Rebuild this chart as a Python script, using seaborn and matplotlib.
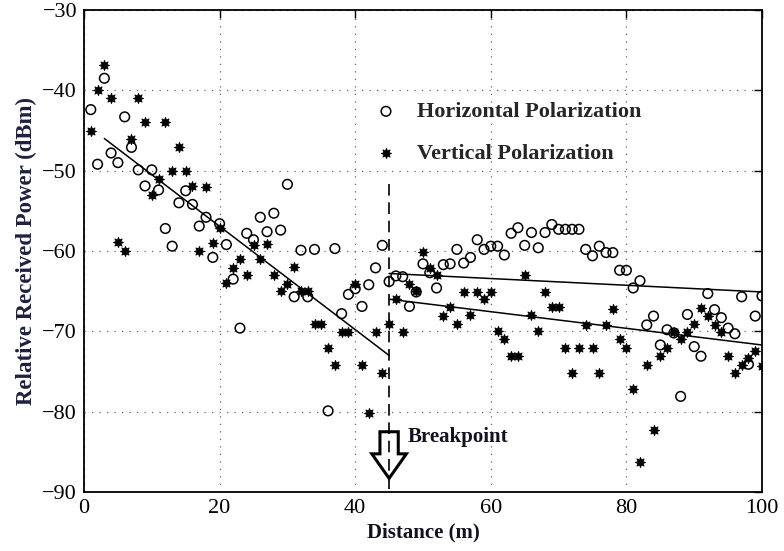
import matplotlib
matplotlib.use("Agg")
import matplotlib.pyplot as plt
import seaborn as sns
import numpy as np
from matplotlib.patches import Polygon

# ---- data ----
h_dist = [1, 2, 3, 4, 5, 6, 7, 8, 9, 10, 11, 12, 13, 14, 15, 16, 17, 18, 19, 20,
          21, 22, 23, 24, 25, 26, 27, 28, 29, 30, 31, 32, 33, 34, 36, 37, 38, 39, 40,
          41, 42, 43, 44, 45, 46, 47, 48, 49, 50, 51, 52, 53, 54, 55, 56, 57, 58, 59, 60,
          61, 62, 63, 64, 65, 66, 67, 68, 69, 70, 71, 72, 73, 74, 75, 76, 77, 78, 79, 80,
          81, 82, 83, 84, 85, 86, 87, 88, 89, 90, 91, 92, 93, 94, 95, 96, 97, 98, 99, 100]
h_power = [-42.4, -49.2, -38.5, -47.8, -49.0, -43.3, -47.1, -49.9, -51.9, -49.9,
           -52.4, -57.2, -59.4, -54.0, -52.5, -54.2, -56.9, -55.8, -60.8, -56.6,
           -59.2, -63.5, -69.6, -57.8, -58.6, -55.8, -57.6, -55.3, -57.4, -51.7,
           -65.7, -59.9, -65.7, -59.8, -79.9, -59.7, -67.8, -65.4, -64.7,
           -66.9, -64.2, -62.1, -59.3, -63.8, -63.1, -63.2, -66.9, -65.1, -61.6,
           -62.7, -64.6, -61.7, -61.6, -59.8, -61.5, -60.8, -58.6, -59.8, -59.4,
           -59.4, -60.5, -57.8, -57.1, -59.3, -57.7, -59.6, -57.7, -56.7, -57.3,
           -57.3, -57.3, -57.3, -59.8, -60.6, -59.4, -60.2, -60.2, -62.4, -62.4,
           -64.6, -63.7, -69.2, -68.1, -71.7, -69.8, -70.2, -78.1, -67.9, -71.9,
           -73.1, -65.3, -67.3, -68.3, -69.6, -70.3, -65.7, -74.1, -68.1, -65.6]

v_dist = [1, 2, 3, 4, 5, 6, 7, 8, 9, 10, 11, 12, 13, 14, 15, 16, 17, 18, 19, 20,
          21, 22, 23, 24, 25, 26, 27, 28, 29, 30, 31, 32, 33, 34, 35, 36, 37, 38, 39, 40,
          41, 42, 43, 44, 45, 46, 47, 48, 49, 50, 51, 52, 53, 54, 55, 56, 57, 58, 59, 60,
          61, 62, 63, 64, 65, 66, 67, 68, 69, 70, 71, 72, 73, 74, 75, 76, 77, 78, 79, 80,
          81, 82, 83, 84, 85, 86, 87, 88, 89, 90, 91, 92, 93, 94, 95, 96, 97, 98, 99, 100]
v_power = [-45.0, -40.0, -36.9, -41.0, -58.9, -60.0, -46.0, -41.0, -44.0, -53.0,
           -51.0, -44.0, -50.0, -47.0, -50.0, -51.9, -60.0, -52.0, -59.0, -57.1,
           -64.0, -62.1, -61.0, -63.0, -59.2, -61.0, -59.1, -63.0, -65.0, -64.1,
           -62.0, -65.0, -65.0, -69.1, -69.1, -72.1, -74.2, -70.1, -70.1, -64.1,
           -74.2, -80.2, -70.1, -75.2, -69.1, -66.0, -70.1, -64.1, -65.0, -60.1,
           -62.1, -63.0, -68.1, -67.0, -69.1, -65.1, -68.0, -65.1, -66.0, -65.1,
           -70.0, -71.0, -73.1, -73.1, -63.0, -68.0, -70.0, -65.1, -67.0, -67.0,
           -72.1, -75.2, -72.1, -69.2, -72.1, -75.2, -69.2, -67.2, -71.0, -72.1,
           -77.2, -86.3, -74.2, -82.3, -73.1, -72.1, -70.1, -71.0, -70.1, -69.1,
           -67.1, -68.1, -69.2, -70.1, -73.1, -75.2, -74.2, -73.3, -72.5, -74.3]

# regression lines (end points)
fit_near_x = [3, 45]
fit_near_y = [-46.0, -73.0]
fit_h_x = [45, 100]
fit_h_y = [-62.8, -65.1]
fit_v_x = [45, 100]
fit_v_y = [-66.0, -71.7]

# breakpoint annotation
break_x = [45, 45]
break_y = [-51.6, -90]
break_label = "Breakpoint"

x_ticks = [0, 20, 40, 60, 80, 100]
y_ticks = [-90, -80, -70, -60, -50, -40, -30]
x_label = "Distance (m)"
y_label = "Relative Received Power (dBm)"
h_label = "Horizontal Polarization"
v_label = "Vertical Polarization"

# ---- style ----
sns.set_theme(style="white")
plt.rcParams["font.family"] = ["Liberation Serif", "DejaVu Serif"]
plt.rcParams["axes.unicode_minus"] = True

fig = plt.figure(figsize=(7.84, 5.51), dpi=100)
ax = fig.add_axes([84 / 784, 59 / 551, 678 / 784, 482 / 551])

sns.scatterplot(x=h_dist, y=h_power, ax=ax, marker="o", s=48,
                facecolors="none", edgecolor="black", linewidth=1.1,
                label=h_label, zorder=3)
sns.scatterplot(x=v_dist, y=v_power, ax=ax, marker=(8, 1, 0), s=52,
                color="black", edgecolor="black", linewidth=0.7,
                label=v_label, zorder=3)

sns.lineplot(x=fit_near_x, y=fit_near_y, ax=ax, color="black", lw=1.1)
sns.lineplot(x=fit_h_x, y=fit_h_y, ax=ax, color="black", lw=1.1)
sns.lineplot(x=fit_v_x, y=fit_v_y, ax=ax, color="black", lw=1.1)
ax.plot(break_x, break_y, color="black", lw=1.2, ls=(0, (7, 4)), zorder=2)

# hollow arrow below breakpoint
bx = break_x[0]
arrow = Polygon([(bx - 1.35, -82.5), (bx + 1.35, -82.5), (bx + 1.35, -85.25),
                 (bx + 2.55, -85.25), (bx, -88.3), (bx - 2.55, -85.25),
                 (bx - 1.35, -85.25)], closed=True, fill=False,
                edgecolor="black", lw=2.2, zorder=4)
ax.add_patch(arrow)
ax.text(bx + 2.7, -83.1, break_label, fontsize=15, fontweight="bold",
        va="center", ha="left", color="#111122")

ax.set_xlim(0, 100)
ax.set_ylim(-90, -30)
ax.set_xticks(x_ticks)
ax.set_yticks(y_ticks)
ax.grid(True, ls=(0, (1, 5)), color="#666666", lw=0.9)
ax.tick_params(direction="in", length=6, width=1, top=True, right=True,
               labelsize=16, pad=5, colors="black")
for sp in ax.spines.values():
    sp.set_color("black")
    sp.set_linewidth(1.3)

ax.set_xlabel(x_label, fontsize=15, fontweight="bold", labelpad=3, color="#111122")
ax.set_ylabel(y_label, fontsize=16.5, fontweight="bold", labelpad=4, color="#1f2040")

leg = ax.legend(loc="upper left", bbox_to_anchor=(0.429, 0.81), frameon=False,
                prop={"weight": "bold", "size": 16},
                handlelength=1.0, handletextpad=0.9, labelspacing=0.96,
                borderpad=0, borderaxespad=0)

fig.savefig("out.png", dpi=100, facecolor="white")
